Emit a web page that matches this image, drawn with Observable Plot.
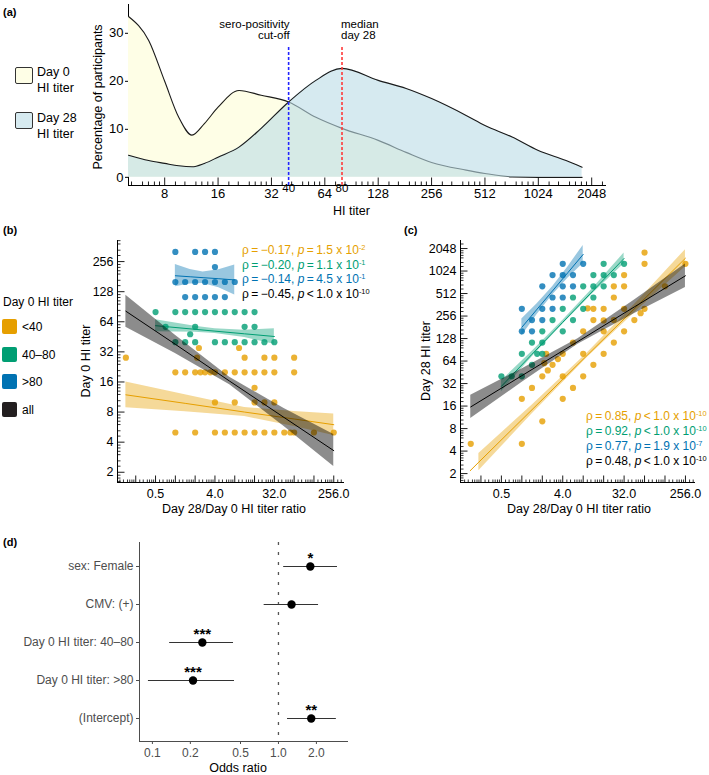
<!DOCTYPE html>
<html><head><meta charset="utf-8">
<script src="https://cdn.jsdelivr.net/npm/d3@7"></script>
<script src="https://cdn.jsdelivr.net/npm/@observablehq/plot@0.6"></script>
<style>
body{margin:0;background:#fff;}
#root{position:relative;width:709px;height:775px;overflow:hidden;background:#fff;font-family:"Liberation Sans",Arial,Helvetica,sans-serif;}
.abs{position:absolute;white-space:nowrap;line-height:1;}
.abs sup{font-size:0.62em;vertical-align:0.6em;line-height:0;}
.box{position:absolute;box-sizing:border-box;border-radius:2px;}
</style></head><body><div id="root"></div>
<script>
const FONT = '"Liberation Sans", Arial, Helvetica, sans-serif';
const C_LOW = "#E69F00", C_MID = "#009E73", C_HIGH = "#0072B2", C_ALL = "#000000";

// ---------- Panel (a): distribution of HI titers ----------
const titerGrid = [5, 6.5, 8, 9.6, 11.4, 13.4, 16, 21, 28, 40, 57, 80, 128, 184, 256, 401, 512, 729, 1024, 1468, 1808];
const day0Pct  = [33.5, 28.5, 20, 12.5, 8.8, 11.2, 14.6, 18.1, 17.1, 15.7, 12.5, 10.2, 7.7, 5.2, 3.1, 1.5, 0.8, 0.1, 0, 0, 0];
const day28Pct = [4.6, 3.5, 2.9, 2.4, 2.2, 2.9, 4.2, 6.3, 10.2, 15.7, 20.2, 22.7, 20.2, 18.5, 16.4, 12.9, 10.8, 8.4, 5.6, 3.5, 2.1];
const aXTicks = [8, 16, 32, 64, 128, 256, 512, 1024, 2048];
const aYTicks = [0, 10, 20, 30];
const cutoffTiter = 40, medianTiter = 80;

// ---------- Panels (b),(c): participants ----------
// Day 0 < 40
const lowDay0  = [5,5,5,5,5,5,5,5,5,5,5,5,5,5, 10,10,10,10,10, 14, 20,20,20,20,20,20,20,20,20,20,20,20,20,20, 28,28,28,28,28,28, 35,35];
const lowRatio = [1,2,4,5.66,8,11.3,16,22.6,32,45.3,56,64,128,256, 4,8,16,22.6,32, 16, 1,1.41,2,2.41,2.83,3.4,4,5.66,8,11.3,16,22.6,32,64, 0.177,2.14,11.3,22.6,32,64, 2.28,9.3];
const lowDay28 = [5,10,20,28,40,57,80,113,160,226,280,320,640,1280, 40,80,160,226,320, 224, 20,28,40,48,57,68,80,113,160,226,320,453,640,1280, 5,60,320,640,905,1810, 80,325];
// Day 0 40-80
const midDay0  = [80,80,80,80,80,80,80,80,80,80, 57,57,57,57, 48, 40,40,40,40,40,40,40,40,40,40];
const midRatio = [0.5,1,1.41,2,2.83,4,5.66,8,11.3,16, 0.71,2,11.3,16, 1.68, 1,1.41,2,4,5.66,8,11.3,16,22.6,32];
const midDay28 = [40,80,113,160,226,320,453,640,905,1280, 40,113,640,905, 80, 40,57,80,160,226,320,453,640,905,1280];
// Day 0 > 80
const highDay0  = [320,320,320,320, 226, 160,160,160,160,160,160,160, 113,113,113,113,113];
const highRatio = [1,2,2.83,4, 4, 1,1.41,2,2.83,4,5.66,8, 1.41,2,2.83,4,5.66];
const highDay28 = [320,640,905,1280, 905, 160,226,320,453,640,905,1280, 160,226,320,453,640];

// Regression fits (b): ratio positions, fitted Day 0 titer, CI
const bLowR = [0.177, 1.41, 11.3, 64, 256], bLowFit = [11.9, 9.78, 8.0, 6.82, 5.98], bLowLo = [8.82, 8.06, 7.21, 5.74, 4.66], bLowHi = [16, 11.9, 8.88, 8.11, 7.67];
const bMidR = [0.5, 2, 4, 11.3, 32], bMidFit = [58.5, 53.8, 51.6, 48.5, 45.6], bMidLo = [50.9, 50.2, 48.8, 44.6, 38.1], bMidHi = [67.2, 57.7, 54.6, 52.7, 54.6];
const bHighR = [1, 1.68, 2.64, 4.59, 8], bHighFit = [184.8, 180.4, 176.7, 172.5, 167.7], bHighLo = [143, 152.8, 154.9, 140.1, 118.6], bHighHi = [238.9, 213, 201.6, 212.3, 237.2];
const bAllR = [0.177, 1, 6.7, 45, 256], bAllFit = [81.6, 38.1, 16.3, 7.06, 3.29], bAllLo = [56.5, 30.9, 15.0, 5.74, 2.28], bAllHi = [117.8, 46.8, 17.8, 8.69, 4.76];
// Regression fits (c): ratio positions, fitted Day 28 titer, CI
const cLowR = [0.174, 0.233, 1.41, 9.19, 55.7, 256], cLowFit = [2.19, 2.85, 14.3, 76.6, 385, 1520], cLowLo = [NaN, 2.19, 12.5, 71.5, 335, 1168], cLowHi = [NaN, 3.71, 16.4, 82.1, 443, 1978];
const cMidR = [0.5, 1.41, 4, 11.3, 32], cMidFit = [29.4, 78.8, 211, 564, 1510], cMidLo = [24.9, 72.5, 199, 519, 1278], cMidHi = [34.8, 85.6, 223, 613, 1783];
const cHighR = [1, 1.68, 2.83, 4.76, 8], cHighFit = [181, 317, 556, 975, 1710], cHighLo = [140, 269, 491, 820, 1296], cHighHi = [234, 375, 630, 1160, 2257];
const cAllR = [0.177, 1, 6.7, 45, 256], cAllFit = [15.6, 40.8, 117, 338, 885], cAllLo = [10.9, 33.1, 107.6, 274, 617], cAllHi = [22.3, 50.2, 127, 416, 1270];

const ratioTicks = [0.5, 4, 32, 256];
const bYTicks = [2, 4, 8, 16, 32, 64, 128, 256];
const cYTicks = [2, 4, 8, 16, 32, 64, 128, 256, 512, 1024, 2048];
const octaves = [0.125, 0.25, 0.5, 1, 2, 4, 8, 16, 32, 64, 128, 256, 512, 1024, 2048];

const bRho = ["−0.17", "−0.20", "−0.14", "−0.45"], bSign = ["=", "=", "=", "<"], bMant = ["1.5", "1.1", "4.5", "1.0"], bExp = ["-2", "-1", "-1", "-10"];
const cRho = ["0.85", "0.92", "0.77", "0.48"], cSign = ["<", "<", "=", "<"], cMant = ["1.0", "1.0", "1.9", "1.0"], cExp = ["-10", "-10", "-7", "-10"];
const statColors = [C_LOW, C_MID, C_HIGH, C_ALL];

// ---------- Panel (d): odds ratios ----------
const terms = ["sex: Female", "CMV: (+)", "Day 0 HI titer: 40–80", "Day 0 HI titer: >80", "(Intercept)"];
const oddsRatio = [1.79, 1.27, 0.249, 0.21, 1.82];
const ciLow = [1.10, 0.77, 0.137, 0.093, 1.18];
const ciHigh = [2.94, 2.08, 0.44, 0.448, 2.88];
const signif = ["*", "", "***", "***", "**"];
const orTicks = [0.1, 0.2, 0.5, 1, 2];

// ---------- helpers ----------
const root = document.getElementById("root");
const minorFrac = [1.15, 1.3, 1.5, 1.62, 1.75, 1.87];
function minorTicks(lo, hi) {
  const out = [];
  for (const m of octaves) for (const f of minorFrac) { const v = m * f; if (v > lo && v < hi) out.push(v); }
  return out;
}
function majorTicks(lo, hi) { return octaves.filter(v => v > lo && v < hi); }
const tickUp = {draw(ctx, size) { const l = Math.sqrt(size / Math.PI); ctx.moveTo(0, 0); ctx.lineTo(0, -l); }};
const tickRight = {draw(ctx, size) { const l = Math.sqrt(size / Math.PI); ctx.moveTo(0, 0); ctx.lineTo(l, 0); }};

function place(svg, left, top) {
  svg.style.position = "absolute";
  svg.style.left = left + "px";
  svg.style.top = top + "px";
  svg.style.overflow = "visible";
  root.appendChild(svg);
}
function label(html, x, y, {size = 12.5, anchor = "start", rotate = 0, color = "#000", weight = "normal"} = {}) {
  const d = document.createElement("div");
  d.className = "abs";
  d.innerHTML = html;
  const tx = anchor === "start" ? "0" : anchor === "middle" ? "-50%" : "-100%";
  d.style.left = x + "px";
  d.style.top = y + "px";
  d.style.fontSize = size + "px";
  d.style.color = color;
  d.style.fontWeight = weight;
  d.style.transform = `translate(${tx},-50%)` + (rotate ? ` rotate(${rotate}deg)` : "");
  root.appendChild(d);
}
function box(x, y, w, h, fill, border) {
  const d = document.createElement("div");
  d.className = "box";
  Object.assign(d.style, {left: x + "px", top: y + "px", width: w + "px", height: h + "px", background: fill, border: border || "none"});
  root.appendChild(d);
}
const zip = (a, b, c) => a.map((v, i) => ({r: b[i], t0: v, t28: c[i]}));
const fitRows = (r, fit, lo, hi) => r.map((v, i) => ({r: v, fit: fit[i], lo: lo[i], hi: hi[i]}));

// ---------- Panel (a) ----------
const aRows = titerGrid.map((t, i) => ({t, d0: day0Pct[i], d28: day28Pct[i]}));
const aDom = [5, 2450];
const plotA = Plot.plot({
  width: 620, height: 222, marginLeft: 128, marginRight: 15, marginTop: 4, marginBottom: 37,
  style: {fontFamily: FONT, fontSize: "13px", background: "transparent", color: "#000"},
  x: {type: "log", base: 2, domain: aDom, ticks: aXTicks, tickFormat: d => String(d), tickSize: 0, tickPadding: 3.5, label: null, line: true},
  y: {domain: [-1.7, 36], ticks: aYTicks, tickSize: 3, tickPadding: 2, label: null, line: true},
  marks: [
    Plot.areaY(aRows, {x: "t", y: "d0", fill: "#fefee6", curve: "monotone-x"}),
    Plot.lineY(aRows, {x: "t", y: "d0", stroke: "#1a1a1a", strokeWidth: 1.1, curve: "monotone-x"}),
    Plot.areaY(aRows, {x: "t", y: "d28", fill: "#bbdce6", fillOpacity: 0.6, curve: "monotone-x"}),
    Plot.lineY(aRows, {x: "t", y: "d28", stroke: "#1a1a1a", strokeWidth: 1.1, curve: "monotone-x"}),
    Plot.ruleX([cutoffTiter], {y1: -1.7, y2: 27.3, stroke: "#2323ff", strokeWidth: 1.6, strokeDasharray: "3,2"}),
    Plot.ruleX([medianTiter], {y1: -1.7, y2: 27.3, stroke: "#ff3a3a", strokeWidth: 1.6, strokeDasharray: "3,2"}),
    Plot.dot(minorTicks(aDom[0], aDom[1]), {x: d => d, frameAnchor: "bottom", symbol: tickUp, r: 4, stroke: "#000", fill: "none", strokeWidth: 0.9}),
    Plot.dot(majorTicks(aDom[0], aDom[1]), {x: d => d, frameAnchor: "bottom", symbol: tickUp, r: 8, stroke: "#000", fill: "none", strokeWidth: 0.9}),
    Plot.text([cutoffTiter], {x: d => d, y: 30.75, text: () => "sero-positivity\ncut-off", textAnchor: "end", dx: 1, fontSize: 11.5, lineHeight: 1}),
    Plot.text([medianTiter], {x: d => d, y: 30.75, text: () => "median\nday 28", textAnchor: "start", dx: -1, fontSize: 11.5, lineHeight: 1}),
    Plot.text([cutoffTiter, medianTiter], {x: d => d, frameAnchor: "bottom", dy: 6, text: d => String(d), fontSize: 11.5})
  ]
});
place(plotA, 0, 0);

// ---------- Panels (b) and (c) ----------
function scatter({rowsKey, fits, yTicks, yDom, xDom, width, marginLeft, marginRight}) {
  const groups = [[zip(lowDay0, lowRatio, lowDay28), C_LOW], [zip(midDay0, midRatio, midDay28), C_MID], [zip(highDay0, highRatio, highDay28), C_HIGH]];
  const marks = [];
  for (const [rows, col] of groups) marks.push(Plot.dot(rows, {x: "r", y: rowsKey, r: 3.1, fill: col, fillOpacity: 0.8}));
  for (const [rows, col] of fits) {
    marks.push(Plot.areaY(rows, {x: "r", y1: "lo", y2: "hi", fill: col === C_ALL ? "#000" : col, fillOpacity: col === C_ALL ? 0.45 : 0.4}));
    marks.push(Plot.lineY(rows, {x: "r", y: "fit", stroke: col, strokeWidth: 1}));
  }
  marks.push(Plot.dot(minorTicks(xDom[0], xDom[1]), {x: d => d, frameAnchor: "bottom", symbol: tickUp, r: 3, stroke: "#000", fill: "none", strokeWidth: 0.8}));
  marks.push(Plot.dot(majorTicks(xDom[0], xDom[1]), {x: d => d, frameAnchor: "bottom", symbol: tickUp, r: 7, stroke: "#000", fill: "none", strokeWidth: 0.9}));
  marks.push(Plot.dot(minorTicks(yDom[0], yDom[1]), {y: d => d, frameAnchor: "left", symbol: tickRight, r: 3, stroke: "#000", fill: "none", strokeWidth: 0.8}));
  marks.push(Plot.dot(majorTicks(yDom[0], yDom[1]), {y: d => d, frameAnchor: "left", symbol: tickRight, r: 7, stroke: "#000", fill: "none", strokeWidth: 0.9}));
  return Plot.plot({
    width, height: 275, marginLeft, marginRight, marginTop: 15, marginBottom: 18,
    style: {fontFamily: FONT, fontSize: "12.5px", background: "transparent", color: "#000"},
    x: {type: "log", base: 2, domain: xDom, ticks: ratioTicks, tickFormat: d => d.toFixed(1), tickSize: 0, tickPadding: 6.5, label: null, line: true},
    y: {type: "log", base: 2, domain: yDom, ticks: yTicks, tickFormat: d => String(d), tickSize: 0, tickPadding: 4, label: null, line: true},
    marks
  });
}
const plotB = scatter({
  rowsKey: "t0", yTicks: bYTicks, yDom: [1.58, 416], xDom: [0.132, 360], width: 350, marginLeft: 117, marginRight: 7,
  fits: [[fitRows(bLowR, bLowFit, bLowLo, bLowHi), C_LOW], [fitRows(bMidR, bMidFit, bMidLo, bMidHi), C_MID],
         [fitRows(bHighR, bHighFit, bHighLo, bHighHi), C_HIGH], [fitRows(bAllR, bAllFit, bAllLo, bAllHi), C_ALL]]
});
place(plotB, 0, 225);
const plotC = scatter({
  rowsKey: "t28", yTicks: cYTicks, yDom: [1.52, 2623], xDom: [0.125, 348], width: 359, marginLeft: 110, marginRight: 15,
  fits: [[fitRows(cLowR, cLowFit, cLowLo, cLowHi), C_LOW], [fitRows(cMidR, cMidFit, cMidLo, cMidHi), C_MID],
         [fitRows(cHighR, cHighFit, cHighLo, cHighHi), C_HIGH], [fitRows(cAllR, cAllFit, cAllLo, cAllHi), C_ALL]]
});
place(plotC, 350, 225);

// ---------- Panel (d) ----------
const dRows = terms.map((t, i) => ({term: t, or: oddsRatio[i], lo: ciLow[i], hi: ciHigh[i], s: signif[i]}));
const plotD = Plot.plot({
  width: 360, height: 240, marginLeft: 139, marginRight: 13, marginTop: 7, marginBottom: 34,
  style: {fontFamily: FONT, fontSize: "12px", background: "transparent", color: "#4d4d4d"},
  x: {type: "log", domain: [0.079, 3.53], ticks: orTicks, tickFormat: d => d.toFixed(1), tickSize: 3, tickPadding: 4, label: null, line: true},
  y: {type: "point", domain: terms, padding: 0.57, tickSize: 3, tickPadding: 3, label: null, line: true},
  marks: [
    Plot.ruleX([1], {stroke: "#555", strokeWidth: 1.3, strokeDasharray: "3,7"}),
    Plot.ruleY(dRows, {y: "term", x1: "lo", x2: "hi", stroke: "#333", strokeWidth: 1.2}),
    Plot.dot(dRows, {x: "or", y: "term", r: 4.2, fill: "#000"}),
    Plot.text(dRows, {x: "or", y: "term", text: "s", dy: -8, fontSize: 15, fontWeight: "bold", fill: "#000"})
  ]
});
place(plotD, 0, 535);

// ---------- text, legends ----------
label("(a)", 3, 12, {size: 11, weight: "bold"});
label("(b)", 3, 230, {size: 11, weight: "bold"});
label("(c)", 404, 230, {size: 11, weight: "bold"});
label("(d)", 3, 542, {size: 11, weight: "bold"});

label("Percentage of participants", 98, 97, {anchor: "middle", rotate: -90});
label("HI titer", 333, 211, {size: 12.5});

// legend (a)
box(15, 67, 18, 17, "#fefee6", "1px solid #333");
label("Day 0", 37, 72, {size: 12.5});
label("HI titer", 37, 88, {size: 12.5});
box(15, 112, 18, 17, "#d6eaf0", "1px solid #333");
label("Day 28", 37, 118, {size: 12.5});
label("HI titer", 37, 134, {size: 12.5});

// legend (b)
label("Day 0 HI titer", 3, 302, {size: 12});
const legItems = [["&lt;40", C_LOW], ["40–80", C_MID], ["&gt;80", C_HIGH], ["all", "#231f20"]];
legItems.forEach(([t, c], i) => {
  box(2, 319 + i * 27.5, 15, 15, c);
  label(t, 22, 327 + i * 27.5, {size: 12});
});

label("Day 0 HI titer", 86, 361, {anchor: "middle", rotate: -90});
label("Day 28 HI titer", 426, 361, {anchor: "middle", rotate: -90});
label("Day 28/Day 0 HI titer ratio", 234, 508.5, {anchor: "middle"});
label("Day 28/Day 0 HI titer ratio", 579, 508.5, {anchor: "middle"});
label("Odds ratio", 238, 768, {anchor: "middle"});

const stat = (rho, sign, mant, exp) => `ρ\u2009=\u2009${rho}, <i>p</i>\u2009${sign === "<" ? "&lt;" : "="}\u2009${mant} x 10<sup>${exp}</sup>`;
bRho.forEach((r, i) => label(stat(r, bSign[i], bMant[i], bExp[i]), 242, 250 + i * 14.5, {size: 12, color: statColors[i]}));
cRho.forEach((r, i) => label(stat(r, cSign[i], cMant[i], cExp[i]), 586, 416 + i * 15, {size: 12, color: statColors[i]}));
</script>
</body></html>
